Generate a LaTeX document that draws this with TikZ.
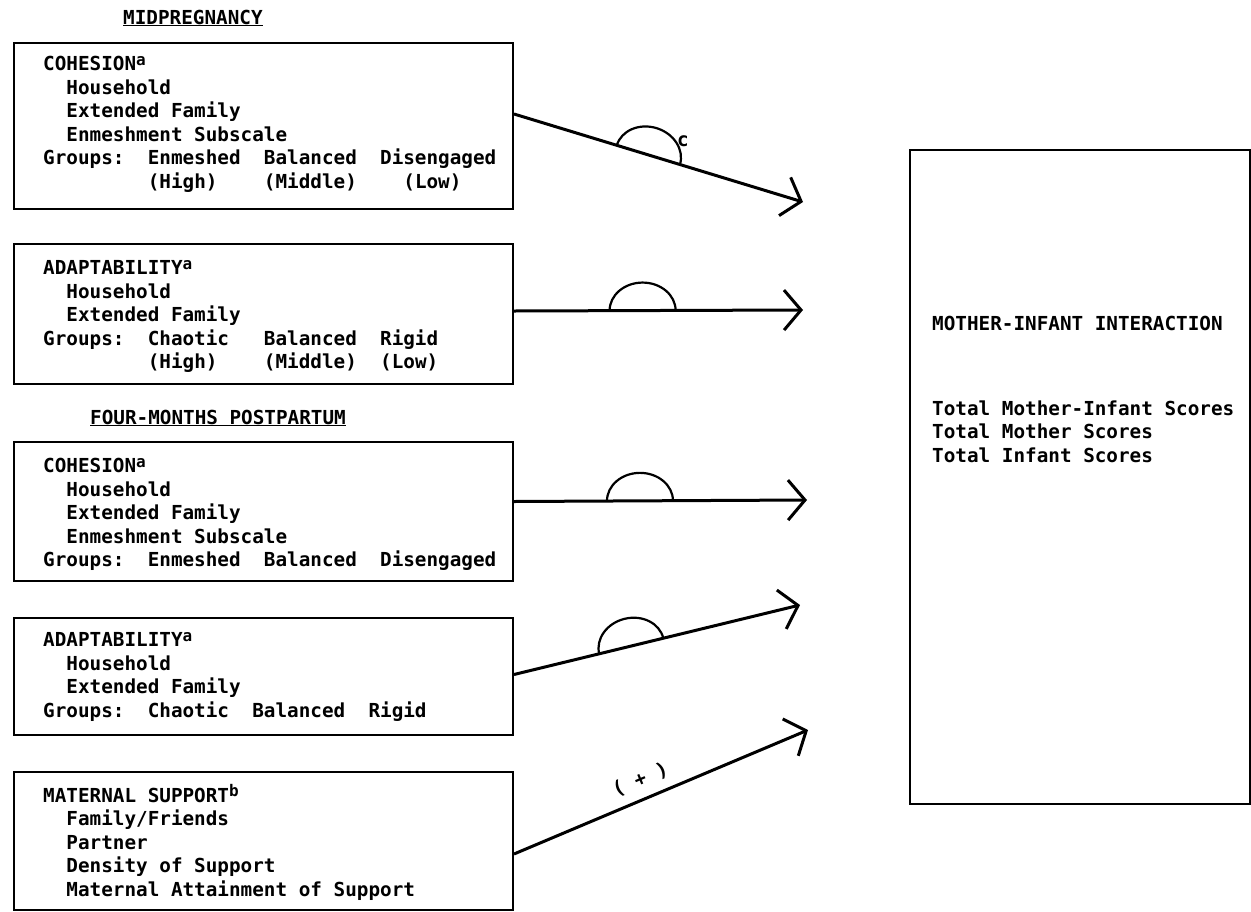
\documentclass[tikz,border=0pt]{standalone}
\usepackage{fontspec}
\usetikzlibrary{arrows.meta}
\usetikzlibrary{positioning}
\usetikzlibrary{decorations.markings}
\newfontfamily\typer{DejaVu Sans Mono}
% fixed-pitch spacing: #1 character cells
\newcommand{\gap}[1]{\hspace*{#1\fontcharwd\font`0}}
\newcommand{\supnote}[1]{\raisebox{0.55ex}{\fontsize{16}{16}\selectfont #1}}
\tikzstyle{factor}=[draw, line width=2pt, anchor=north west, minimum width=499pt, inner sep=0pt]
\tikzstyle{entry}=[align=left, inner sep=0pt, font=\typer\bfseries\fontsize{19.3}{23.5}\selectfont]
\tikzstyle{heading}=[anchor=base west, inner sep=0pt, font=\typer\bfseries\fontsize{19.3}{23.5}\selectfont]
\tikzstyle{link}=[line width=3pt, -{Straight Barb[length=17pt,width=40pt]}]
\tikzstyle{bump}=[line width=2.2pt, -]

\begin{document}
\begin{tikzpicture}[x=1pt, y=-1pt]

  \useasboundingbox (0,0) rectangle (1251,911);
  \fill[white] (0,0) rectangle (1251,911);

  \node[heading] (midpreg) at (123,24) {\underline{MIDPREGNANCY}};
  \node[heading] (fourmonths) at (90,424) {\underline{FOUR-MONTHS POSTPARTUM}};

  % predictor boxes
  \node[factor, minimum height=166pt] (coh1) at (13,42) {};
  \node[factor, minimum height=140pt] (adp1) at (13,243) {};
  \node[factor, minimum height=139pt] (coh2) at (13,441) {};
  \node[factor, minimum height=117pt] (adp2) at (13,617) {};
  \node[factor, minimum height=138pt] (mat) at (13,771) {};

  \node[entry, below right=14pt and 30pt of coh1.north west] (coh1txt) {COHESION\supnote{a}\\
    \gap{2}Household\\
    \gap{2}Extended Family\\
    \gap{2}Enmeshment Subscale\\
    Groups:\gap{2}Enmeshed\gap{2}Balanced\gap{2}Disengaged\\
    \gap{9}(High)\gap{4}(Middle)\gap{4}(Low)};

  \node[entry, below right=17pt and 30pt of adp1.north west] (adp1txt) {ADAPTABILITY\supnote{a}\\
    \gap{2}Household\\
    \gap{2}Extended Family\\
    Groups:\gap{2}Chaotic\gap{3}Balanced\gap{2}Rigid\\
    \gap{9}(High)\gap{4}(Middle)\gap{2}(Low)};

  \node[entry, below right=17pt and 30pt of coh2.north west] (coh2txt) {COHESION\supnote{a}\\
    \gap{2}Household\\
    \gap{2}Extended Family\\
    \gap{2}Enmeshment Subscale\\
    Groups:\gap{2}Enmeshed\gap{2}Balanced\gap{2}Disengaged};

  \node[entry, below right=15pt and 30pt of adp2.north west] (adp2txt) {ADAPTABILITY\supnote{a}\\
    \gap{2}Household\\
    \gap{2}Extended Family\\
    Groups:\gap{2}Chaotic\gap{2}Balanced\gap{2}Rigid};

  \node[entry, below right=13pt and 30pt of mat.north west] (mattxt) {MATERNAL SUPPORT\supnote{b}\\
    \gap{2}Family/Friends\\
    \gap{2}Partner\\
    \gap{2}Density of Support\\
    \gap{2}Maternal Attainment of Support};

  % outcome box
  \node[factor, minimum width=340pt, minimum height=654pt] (mii) at (909,149) {};
  \node[entry, anchor=north west] (miitxt) at (932,316) {MOTHER-INFANT INTERACTION\\[61pt]
    Total Mother-Infant Scores\\
    Total Mother Scores\\
    Total Infant Scores};

  % arrow ends
  \coordinate (t1) at (803,202);
  \coordinate (t2) at (803,310);
  \coordinate (t3) at (807,500);
  \coordinate (t4) at (800,605);
  \coordinate (t5) at (808,730);

  \foreach \src/\dy/\dst/\pos in {coh1/12/t1/0.465, adp1/3/t2/0.445, coh2/10/t3/0.43, adp2/2/t4/0.41}
    \draw[link, postaction={decorate}, decoration={markings, mark=at position \pos with
      {\draw[bump] (-33pt,0pt) arc[start angle=180, end angle=0, x radius=33pt, y radius=28pt];}}]
      ([yshift=\dy pt]\src.east) -- (\dst);

  \node[entry] (cmark) at (683,141) {c};

  \draw[link] ([yshift=-13pt]mat.east) -- node[entry, sloped, above=9pt, pos=0.455] (plus) {( + )} (t5);

\end{tikzpicture}
\end{document}
